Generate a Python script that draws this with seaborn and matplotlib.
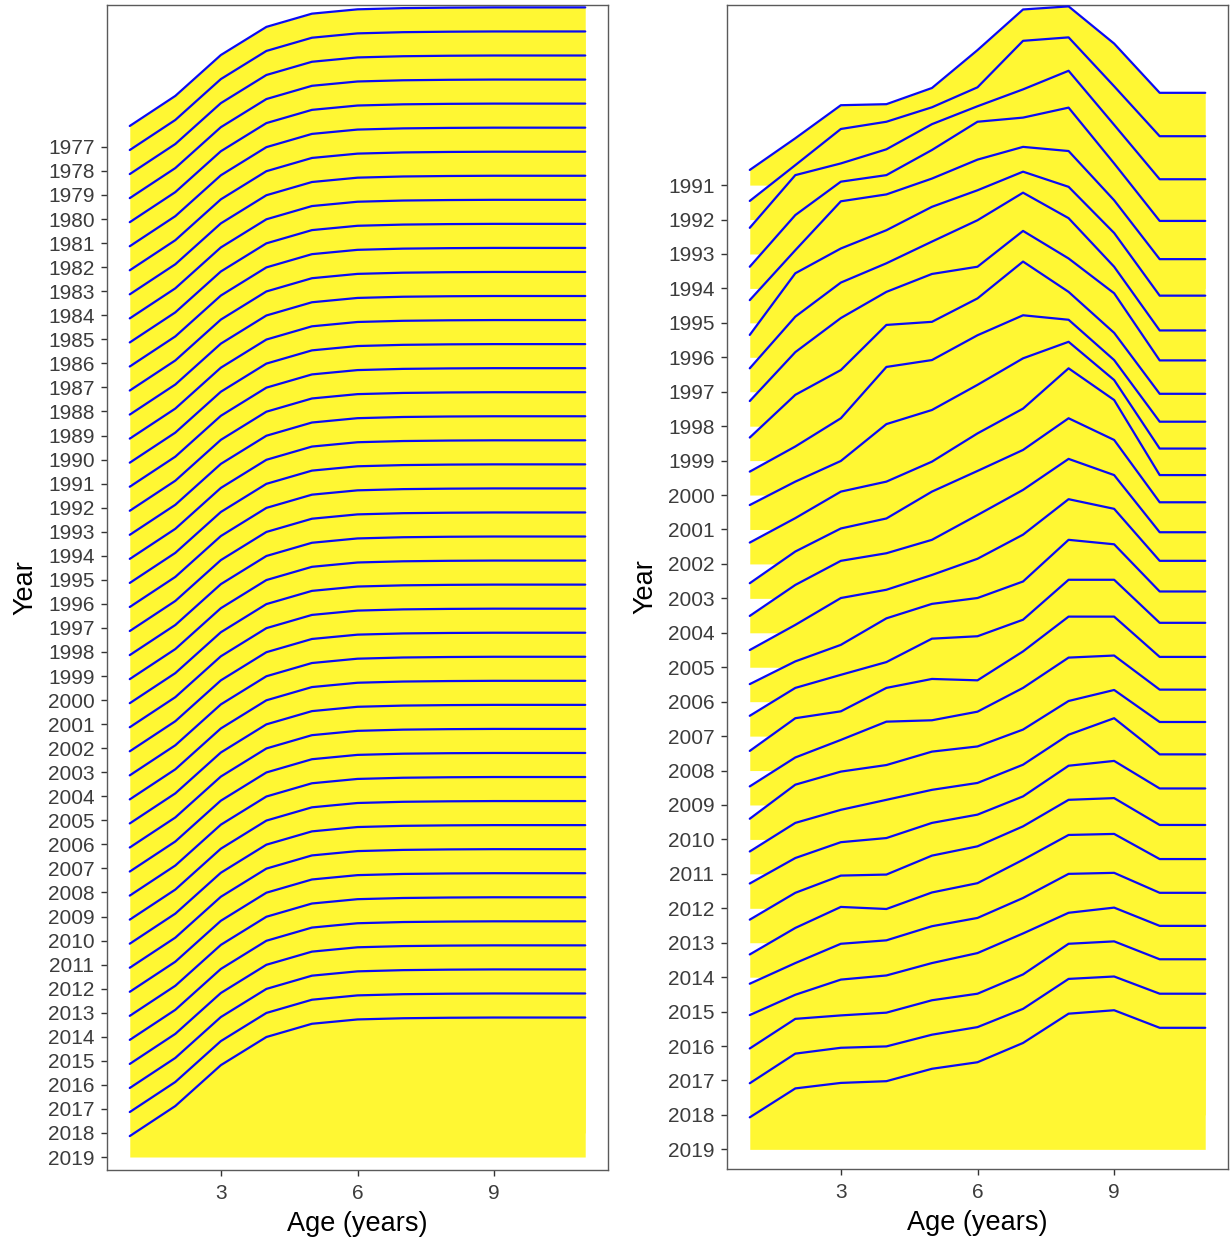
import numpy as np
import matplotlib
matplotlib.use("Agg")
import matplotlib.pyplot as plt
import seaborn as sns

sns.set_style("white")
plt.rcParams["font.family"] = ["Liberation Sans", "DejaVu Sans"]

ages = [1, 2, 3, 4, 5, 6, 7, 8, 9, 10, 11]

# left panel: one growth curve, repeated for every year
left_years = list(range(1977, 2020))
left_height = [0.87, 2.12, 3.82, 4.99, 5.54, 5.72, 5.77, 5.79, 5.80, 5.80, 5.80]

# right panel: one curve per year (ridge height above the year baseline)
right_years = list(range(1991, 2020))
h1991 = [0.44, 1.36, 2.32, 2.35, 2.82, 3.92, 5.10, 5.19, 4.11, 2.68, 2.68]
h1992 = [0.54, 1.58, 2.63, 2.84, 3.26, 3.84, 5.19, 5.29, 3.87, 2.42, 2.42]
h1993 = [0.76, 2.29, 2.63, 3.04, 3.77, 4.29, 4.78, 5.32, 3.75, 2.17, 2.17]
h1994 = [0.63, 2.13, 3.10, 3.29, 4.02, 4.84, 4.96, 5.25, 3.63, 1.96, 1.96]
h1995 = [0.66, 2.11, 3.53, 3.73, 4.19, 4.74, 5.11, 4.99, 3.56, 1.85, 1.85]
h1996 = [0.65, 2.44, 3.16, 3.69, 4.37, 4.85, 5.39, 4.95, 3.61, 1.79, 1.79]
h1997 = [0.68, 2.18, 3.17, 3.73, 4.36, 4.98, 5.78, 5.04, 3.63, 1.78, 1.78]
h1998 = [0.73, 2.15, 3.14, 3.90, 4.42, 4.63, 5.67, 4.87, 3.86, 1.91, 1.91]
h1999 = [0.67, 1.91, 2.63, 3.94, 4.03, 4.71, 5.78, 4.90, 3.71, 1.94, 1.94]
h2000 = [0.68, 1.41, 2.23, 3.72, 3.92, 4.64, 5.22, 5.09, 3.92, 2.13, 2.13]
h2001 = [0.71, 1.39, 1.99, 3.06, 3.47, 4.20, 4.97, 5.45, 4.34, 2.35, 2.35]
h2002 = [0.62, 1.33, 2.10, 2.39, 2.97, 3.79, 4.51, 5.68, 4.76, 2.58, 2.58]
h2003 = [0.44, 1.36, 2.03, 2.32, 3.10, 3.70, 4.31, 5.23, 4.60, 2.79, 2.79]
h2004 = [0.49, 1.39, 2.09, 2.31, 2.70, 3.42, 4.15, 5.05, 4.58, 2.92, 2.92]
h2005 = [0.50, 1.23, 2.01, 2.25, 2.68, 3.15, 3.85, 4.88, 4.60, 3.09, 3.09]
h2006 = [0.51, 1.17, 1.65, 2.42, 2.84, 3.01, 3.49, 4.70, 4.57, 3.20, 3.20]
h2007 = [0.59, 1.40, 1.78, 2.15, 2.83, 2.90, 3.38, 4.54, 4.54, 3.29, 3.29]
h2008 = [0.57, 1.52, 1.72, 2.40, 2.66, 2.62, 3.46, 4.47, 4.47, 3.30, 3.30]
h2009 = [0.54, 1.38, 1.89, 2.42, 2.46, 2.71, 3.40, 4.28, 4.34, 3.35, 3.35]
h2010 = [0.60, 1.59, 1.97, 2.16, 2.55, 2.70, 3.19, 4.02, 4.34, 3.41, 3.41]
h2011 = [0.65, 1.48, 1.86, 2.15, 2.44, 2.64, 3.17, 4.04, 4.52, 3.47, 3.47]
h2012 = [0.72, 1.46, 1.92, 2.04, 2.48, 2.72, 3.25, 4.14, 4.28, 3.48, 3.48]
h2013 = [0.67, 1.45, 1.95, 1.98, 2.53, 2.80, 3.38, 4.15, 4.20, 3.42, 3.42]
h2014 = [0.66, 1.43, 2.04, 1.98, 2.46, 2.73, 3.41, 4.13, 4.16, 3.43, 3.43]
h2015 = [0.81, 1.41, 1.97, 2.07, 2.48, 2.72, 3.30, 4.00, 4.03, 3.45, 3.45]
h2016 = [0.90, 1.49, 1.93, 2.05, 2.41, 2.70, 3.27, 3.87, 4.02, 3.49, 3.49]
h2017 = [0.93, 1.79, 1.89, 1.97, 2.33, 2.52, 3.08, 3.97, 4.04, 3.52, 3.52]
h2018 = [0.92, 1.78, 1.95, 1.99, 2.33, 2.55, 3.08, 3.95, 4.02, 3.52, 3.52]
h2019 = [0.93, 1.77, 1.93, 1.98, 2.34, 2.53, 3.09, 3.94, 4.04, 3.53, 3.53]
right_height = [h1991, h1992, h1993, h1994, h1995, h1996, h1997, h1998, h1999, h2000,
                h2001, h2002, h2003, h2004, h2005, h2006, h2007, h2008, h2009, h2010,
                h2011, h2012, h2013, h2014, h2015, h2016, h2017, h2018, h2019]

FILL = "#FFF733"
LINE = "#0A0AF5"


def draw_ridges(ax, years, heights):
    # top ridge first, each lower ridge painted over the one above it
    for i, (yr, h) in enumerate(zip(years, heights)):
        top = yr - np.asarray(h)
        ax.fill_between(ages, yr, top, color=FILL, lw=0, zorder=2 + 2 * i)
        sns.lineplot(x=ages, y=top, ax=ax, color=LINE, lw=1.6,
                     estimator=None, sort=False, zorder=3 + 2 * i)


def style_axis(ax, years, ylim):
    ax.set_xlim(0.5, 11.5)
    ax.set_ylim(*ylim)
    ax.set_xticks([3, 6, 9])
    ax.set_yticks(years)
    ax.set_yticklabels([str(y) for y in years])
    ax.tick_params(axis="both", which="major", left=True, bottom=True,
                   length=4, width=1.0, color="#333333",
                   labelcolor="#3C3C3C", labelsize=15, direction="out")
    ax.tick_params(axis="y", pad=5)
    ax.tick_params(axis="x", pad=6)
    for s in ax.spines.values():
        s.set_color("#5A5A5A")
        s.set_linewidth(1.0)
    ax.grid(False)
    ax.set_xlabel("Age (years)", fontsize=19.5, color="black")
    ax.set_ylabel("Year", fontsize=19.5, color="black")
    ax.xaxis.set_label_coords(0.5, -0.035)
    ax.yaxis.set_label_coords(-0.136, 0.5)


fig = plt.figure(figsize=(12.31, 12.43), dpi=100)
ax_left = fig.add_axes([107 / 1231, 1 - 1170 / 1243, 501 / 1231, 1165 / 1243])
ax_right = fig.add_axes([727 / 1231, 1 - 1169 / 1243, 501 / 1231, 1164 / 1243])

draw_ridges(ax_left, left_years, [left_height] * len(left_years))
style_axis(ax_left, left_years, (2019.54, 1971.1))

draw_ridges(ax_right, right_years, right_height)
style_axis(ax_right, right_years, (2019.57, 1985.77))

fig.savefig("out.png", dpi=100)
